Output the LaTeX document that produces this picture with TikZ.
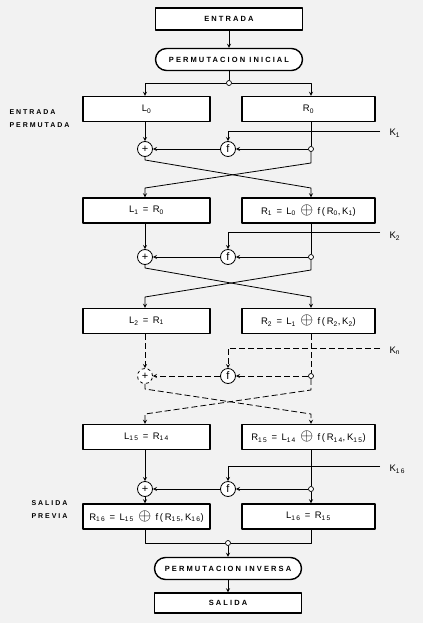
\documentclass[tikz,border=0pt]{standalone}
\usepackage{fontspec}
\setmainfont{Liberation Sans}
\newfontfamily\capsfont[LetterSpace=28]{Liberation Sans Bold}
\newfontfamily\boxfont[LetterSpace=18]{Liberation Sans}
\newcommand\xorop{\scalebox{1.8}{$\oplus$}}
\newcommand\sbs[1]{\textsubscript{#1}}
\begin{document}
\begin{tikzpicture}[x=1pt,y=-1pt,>=stealth,line join=round,
  wire/.style={line width=0.8pt},
  dsh/.style={wire,dash pattern=on 6pt off 3pt},
  blk/.style={draw,line width=1.4pt,fill=white,minimum height=25pt,inner sep=0pt,
    font=\boxfont\fontsize{9.5}{10}\selectfont},
  lbox/.style={blk,minimum width=127pt},
  rbox/.style={blk,minimum width=133pt},
  capbox/.style={draw,line width=1.4pt,fill=white,minimum width=147pt,minimum height=22pt,
    inner sep=0pt,font=\capsfont\fontsize{7.5}{8}\selectfont},
  perm/.style={capbox,rounded corners=11pt},
  op/.style={draw,circle,fill=white,line width=0.8pt,minimum size=15pt,inner sep=0pt,
    font=\fontsize{11}{11}\selectfont},
  jn/.style={draw,circle,fill=white,line width=0.7pt,minimum size=5pt,inner sep=0pt},
  side/.style={anchor=west,align=left,font=\capsfont\fontsize{7}{13}\selectfont},
  klbl/.style={anchor=west,font=\boxfont\fontsize{9.5}{10}\selectfont}]
\fill[black!5] (0,0) rectangle (423,623);
% entrada y permutacion inicial
\node[capbox] (entrada) at (229,19) {ENTRADA};
\node[perm] (pini) at (229,59.5) {PERMUTACION INICIAL};
\node[jn] (j0) at (229,83) {};
\node[lbox] (L0) at (146.5,109) {L\sbs{0}};
\node[rbox] (R0) at (308.5,109) {R\sbs{0}};
\node[side] (entperm) at (6,119) {ENTRADA\\PERMUTADA};
\draw[wire,->] (entrada) -- (pini);
\draw[wire] (pini) -- (j0);
% vuelta 1
\node[op] (p1) at (145,149) {+};
\node[op] (f1) at (228,149) {f};
\node[jn] (j1) at (311,149) {};
\coordinate (k1) at (380,131);
\node[klbl] (lk1) at (386,133) {K\sbs{1}};
\draw[wire,->] (j0) -| (p1 |- L0.north);
\draw[wire,->] (j0) -| (j1 |- R0.north);
\draw[wire,->] (p1 |- L0.south) -- (p1);
\draw[wire] (j1 |- R0.south) -- (j1);
\draw[wire,->] (k1) -| (f1);
\draw[wire,->] (j1) -- (f1);
\draw[wire,->] (f1) -- (p1);
\node[lbox] (L1) at (146.5,210.5) {L\sbs{1} = R\sbs{0}};
\node[rbox] (R1) at (308.5,210.5) {R\sbs{1} = L\sbs{0} \xorop\ f(R\sbs{0},K\sbs{1})};
\draw[wire,->] (p1.south) -- (145,160) -- (311,188) -- (j1 |- R1.north);
\draw[wire,->] (j1) -- (311,163) -- (145,188) -- (p1 |- L1.north);
% vuelta 2
\node[op] (p2) at (145,257) {+};
\node[op] (f2) at (228,257) {f};
\node[jn] (j2) at (311,257) {};
\coordinate (k2) at (380,232);
\node[klbl] (lk2) at (386,236) {K\sbs{2}};
\draw[wire,->] (p2 |- L1.south) -- (p2);
\draw[wire] (j2 |- R1.south) -- (j2);
\draw[wire,->] (k2) -| (f2);
\draw[wire,->] (j2) -- (f2);
\draw[wire,->] (f2) -- (p2);
\node[lbox] (L2) at (146.5,321) {L\sbs{2} = R\sbs{1}};
\node[rbox] (R2) at (308.5,321) {R\sbs{2} = L\sbs{1} \xorop\ f(R\sbs{2},K\sbs{2})};
\draw[wire,->] (p2.south) -- (145,268) -- (311,297) -- (j2 |- R2.north);
\draw[wire,->] (j2) -- (311,270) -- (145,297) -- (p2 |- L2.north);
% vuelta n
\node[op,dashed] (p3) at (145,376) {+};
\node[op] (f3) at (228,376) {f};
\node[jn] (j3) at (311,376) {};
\coordinate (k3) at (380,348);
\node[klbl] (lk3) at (386,351) {K\sbs{n}};
\draw[dsh,->] (p3 |- L2.south) -- (p3);
\draw[dsh] (j3 |- R2.south) -- (j3);
\draw[dsh,->] (k3) -| (f3);
\draw[dsh,->] (j3) -- (f3);
\draw[dsh,->] (f3) -- (p3);
\node[lbox] (L15) at (146.5,437) {L\sbs{15} = R\sbs{14}};
\node[rbox] (R15) at (308.5,437) {R\sbs{15} = L\sbs{14} \xorop\ f(R\sbs{14},K\sbs{15})};
\draw[dsh,->] (p3.south) -- (145,389) -- (311,414) -- (j3 |- R15.north);
\draw[dsh,->] (j3) -- (311,390) -- (145,414) -- (p3 |- L15.north);
% vuelta 16
\node[op] (p4) at (145,489) {+};
\node[op] (f4) at (228,489) {f};
\node[jn] (j4) at (311,489) {};
\coordinate (k4) at (380,466);
\node[klbl] (lk4) at (386,469) {K\sbs{16}};
\draw[wire,->] (p4 |- L15.south) -- (p4);
\draw[wire] (j4 |- R15.south) -- (j4);
\draw[wire,->] (k4) -| (f4);
\draw[wire,->] (j4) -- (f4);
\draw[wire,->] (f4) -- (p4);
\node[lbox] (R16) at (146.5,516.5) {R\sbs{16} = L\sbs{15} \xorop\ f(R\sbs{15},K\sbs{16})};
\node[rbox] (L16) at (308.5,516.5) {L\sbs{16} = R\sbs{15}};
\node[side] (salprev) at (28,510) {SALIDA\\PREVIA};
\draw[wire,->] (p4) -- (p4 |- R16.north);
\draw[wire,->] (j4) -- (j4 |- L16.north);
% salida
\node[jn] (j5) at (228,543) {};
\node[perm] (pinv) at (228,568.5) {PERMUTACION INVERSA};
\node[capbox,minimum height=20pt] (salida) at (228,603) {SALIDA};
\draw[wire] (p4 |- R16.south) |- (j5);
\draw[wire] (j4 |- L16.south) |- (j5);
\draw[wire,->] (j5) -- (pinv);
\draw[wire,->] (pinv) -- (salida);
\end{tikzpicture}
\end{document}
